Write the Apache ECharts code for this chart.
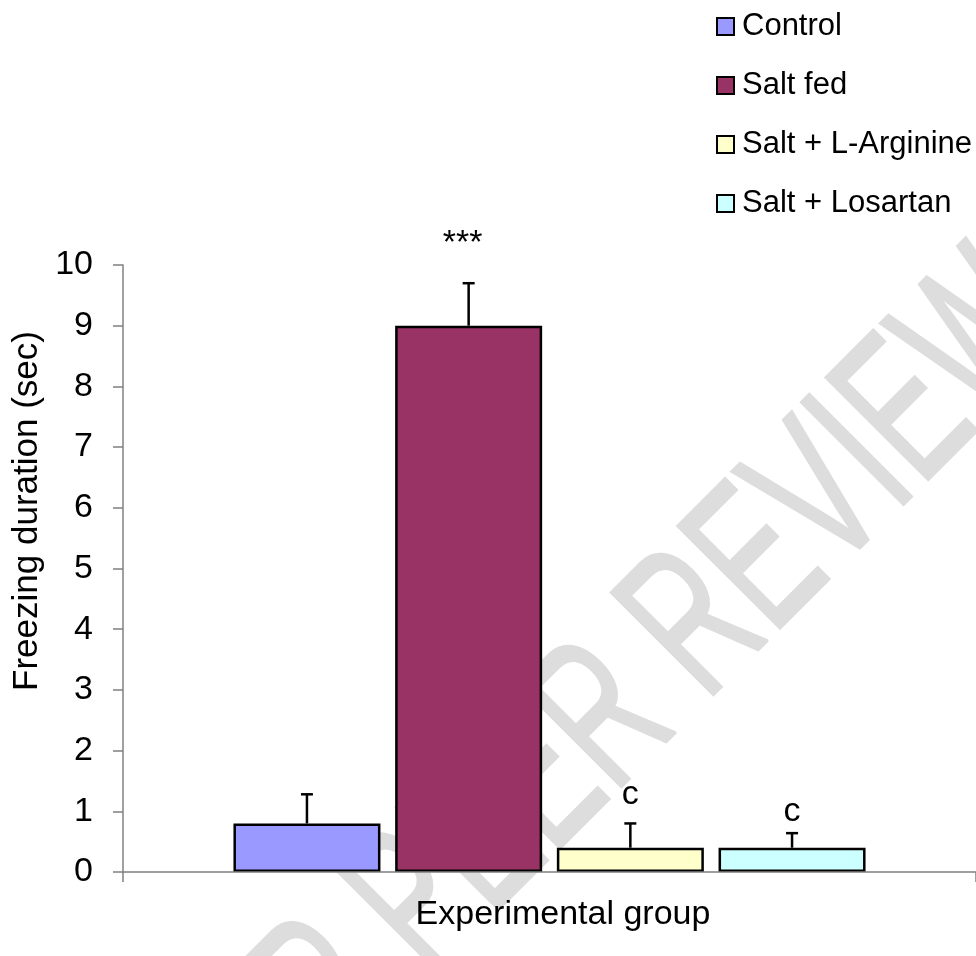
<!DOCTYPE html>
<html>
<head>
<meta charset="utf-8">
<script src="https://cdn.jsdelivr.net/npm/echarts@6/dist/echarts.min.js"></script>
<style>
  html, body { margin: 0; padding: 0; background: #ffffff; }
  #chart { width: 976px; height: 956px; }
</style>
</head>
<body>
<div id="chart"></div>
<script>
// Freezing duration per experimental group (mean and error, seconds)
const groups = ['Control', 'Salt fed', 'Salt + L-Arginine', 'Salt + Losartan'];
const means = [0.8, 9.0, 0.4, 0.4];
const errors = [0.48, 0.7, 0.4, 0.24];
const significance = ['', '***', 'c', 'c'];
const yMin = 0, yMax = 10, yStep = 1;

// Styling
const FONT = "'Liberation Sans', Arial, sans-serif";
const colors = ['#9999FF', '#993366', '#FFFFCC', '#CCFFFF'];
const BAR_WIDTH = 147;
const BAR_GAP = 0.1;             // fraction of bar width
const CAP_HALF = 6;              // error bar cap half-width (px)
const markGap = [0, 40, 29, 22]; // px between error cap and middle of significance mark

const chart = echarts.init(document.getElementById('chart'), null, { renderer: 'canvas' });

const barSeries = groups.map((name, i) => ({
  name: name,
  type: 'bar',
  barWidth: BAR_WIDTH,
  barGap: (BAR_GAP * 100) + '%',
  data: [means[i]],
  itemStyle: { color: colors[i], borderColor: '#000000', borderWidth: 2.5 },
  emphasis: { disabled: true },
  silent: true,
  z: 2
}));

const errorData = groups.map((g, i) => [0, means[i], errors[i], i]);

const errorSeries = {
  type: 'custom',
  silent: true,
  z: 3,
  data: errorData,
  encode: { x: 0, y: 1 },
  renderItem: function (params, api) {
    const idx = api.value(3);
    const mean = api.value(1);
    const err = api.value(2);
    const base = api.coord([0, mean]);
    const top = api.coord([0, mean + err]);
    const step = BAR_WIDTH * (1 + BAR_GAP);
    const x = base[0] + (idx - (groups.length - 1) / 2) * step;
    const children = [
      { type: 'line', shape: { x1: x, y1: base[1], x2: x, y2: top[1] },
        style: { stroke: '#000', lineWidth: 2.5 } },
      { type: 'line', shape: { x1: x - CAP_HALF, y1: top[1], x2: x + CAP_HALF, y2: top[1] },
        style: { stroke: '#000', lineWidth: 2.5 } }
    ];
    const mark = significance[idx];
    if (mark) {
      children.push({
        type: 'text',
        style: {
          text: mark, x: x - (mark.length > 1 ? 6 : 0), y: top[1] - markGap[idx],
          fill: '#000', font: '34px ' + FONT,
          align: 'center', verticalAlign: 'middle'
        }
      });
    }
    return { type: 'group', children: children };
  }
};

const option = {
  backgroundColor: '#ffffff',
  animation: false,
  textStyle: { fontFamily: FONT },
  grid: { left: 123, right: -2, top: 265, bottom: 84, containLabel: false },
  legend: {
    data: groups,
    orient: 'vertical',
    left: 711,
    top: 6,
    itemWidth: 17,
    itemHeight: 17,
    itemGap: 28,
    icon: 'rect',
    selectedMode: false,
    itemStyle: { borderColor: '#000', borderWidth: 2 },
    textStyle: { fontSize: 31, color: '#000', fontFamily: FONT, padding: [0, 0, 0, 3] }
  },
  xAxis: {
    type: 'category',
    data: [''],
    axisLine: { show: true, lineStyle: { color: '#808080', width: 1.5 } },
    axisTick: {
      show: true, length: 10,
      interval: function (index) { return index === 0; },
      lineStyle: { color: '#808080', width: 1.5 }
    },
    axisLabel: { show: false },
    splitLine: { show: false },
    z: 5
  },
  yAxis: {
    type: 'value',
    min: yMin,
    max: yMax,
    interval: yStep,
    axisLine: { show: true, lineStyle: { color: '#808080', width: 1.5 } },
    axisTick: { show: true, length: 10, lineStyle: { color: '#808080', width: 1.5 } },
    axisLabel: { fontSize: 34, color: '#000', margin: 30, fontFamily: FONT },
    splitLine: { show: false },
    z: 5
  },
  graphic: [
    {
      type: 'text', z: -10, silent: true,
      x: 598, y: 728, rotation: Math.PI / 4, scaleX: 0.62,
      style: {
        text: 'FOR PEER REVIEW', font: '210px ' + FONT,
        fill: '#dddddd', stroke: '#dddddd', lineWidth: 3,
        align: 'center', verticalAlign: 'middle'
      }
    },
    {
      type: 'text', silent: true,
      x: 27, y: 511, rotation: Math.PI / 2,
      style: {
        text: 'Freezing duration (sec)', font: '35px ' + FONT, fill: '#000',
        align: 'center', verticalAlign: 'middle'
      }
    },
    {
      type: 'text', silent: true,
      x: 563, y: 915,
      style: {
        text: 'Experimental group', font: '34px ' + FONT, fill: '#000',
        align: 'center', verticalAlign: 'middle'
      }
    }
  ],
  series: barSeries.concat([errorSeries])
};

chart.setOption(option);
</script>
</body>
</html>
